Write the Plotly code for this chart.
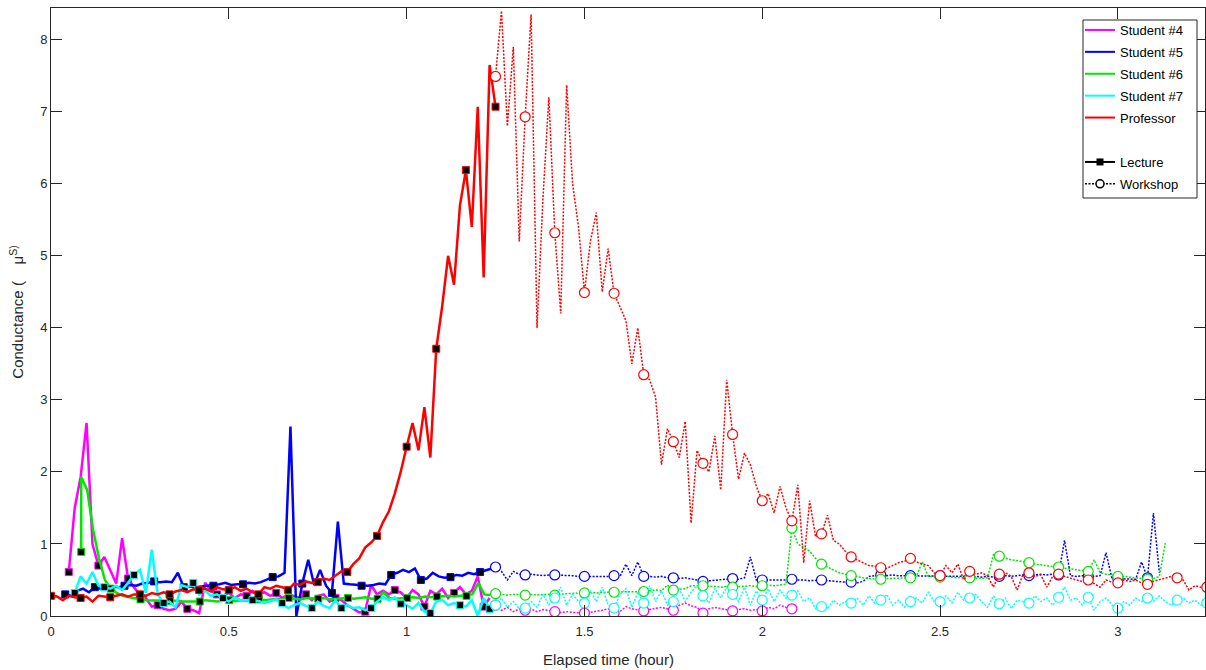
import plotly.graph_objects as go

# ---------------- data (one sample per minute; times in minutes) ----------------
STEP_MIN = 1.0

prof_lec_t0 = 0.0
prof_lec = [0.28, 0.27, 0.22, 0.28, 0.26, 0.25, 0.27, 0.20, 0.28, 0.27,
            0.26, 0.28, 0.30, 0.27, 0.30, 0.30, 0.28, 0.32, 0.30, 0.33,
            0.30, 0.34, 0.36, 0.33, 0.37, 0.36, 0.38, 0.34, 0.40, 0.37,
            0.36, 0.40, 0.35, 0.38, 0.33, 0.30, 0.40, 0.38, 0.42, 0.40,
            0.36, 0.45, 0.43, 0.48, 0.46, 0.47, 0.52, 0.50, 0.56, 0.62,
            0.61, 0.72, 0.80, 0.95, 1.02, 1.11, 1.30, 1.45, 1.70, 2.00,
            2.35, 2.68, 2.30, 2.90, 2.20, 3.71, 4.30, 5.00, 4.60, 5.70,
            6.19, 5.40, 7.07, 4.70, 7.65, 7.07]
prof_ws_t0 = 75.0
prof_ws = [7.49, 8.40, 6.80, 7.90, 5.20, 6.93, 8.35, 4.00, 5.80, 7.20,
           5.32, 4.20, 7.37, 6.00, 5.40, 4.49, 5.20, 5.60, 4.50, 5.10,
           4.48, 4.30, 4.10, 3.50, 4.00, 3.35, 3.28, 3.04, 2.10, 2.60,
           2.42, 2.20, 2.70, 1.29, 2.30, 2.12, 2.00, 2.50, 1.75, 3.28,
           2.52, 1.90, 2.26, 2.10, 1.80, 1.60, 1.70, 1.43, 1.80, 1.50,
           1.32, 1.82, 0.74, 1.60, 1.10, 1.14, 1.40, 1.05, 1.00, 0.90,
           0.82, 0.78, 0.74, 0.70, 0.69, 0.67, 0.66, 0.70, 0.74, 0.76,
           0.80, 0.75, 0.73, 0.70, 0.60, 0.56, 0.70, 0.60, 0.72, 0.50,
           0.62, 0.58, 0.60, 0.56, 0.40, 0.58, 0.60, 0.55, 0.36, 0.58,
           0.60, 0.55, 0.57, 0.40, 0.55, 0.58, 0.55, 0.52, 0.50, 0.48,
           0.50, 0.45, 0.40, 0.50, 0.47, 0.46, 0.50, 0.48, 0.50, 0.46,
           0.44, 0.48, 0.50, 0.52, 0.55, 0.53, 0.50, 0.36, 0.42, 0.40,
           0.40]

s4_lec_t0 = 3.0
s4_lec = [0.61, 1.50, 1.93, 2.68, 1.00, 0.70, 0.82, 0.64, 0.45, 1.08,
          0.52, 0.40, 0.29, 0.25, 0.13, 0.15, 0.10, 0.08, 0.10, 0.20,
          0.10, 0.08, 0.04, 0.46, 0.35, 0.30, 0.28, 0.32, 0.25, 0.30,
          0.28, 0.35, 0.30, 0.33, 0.28, 0.32, 0.25, 0.30, 0.27, 0.25,
          0.30, 0.22, 0.28, 0.30, 0.20, 0.25, 0.22, 0.15, 0.10, 0.05,
          0.06, 0.43, 0.30, 0.35, 0.30, 0.36, 0.33, 0.25, 0.36, 0.30,
          0.13, 0.35, 0.30, 0.38, 0.25, 0.32, 0.40, 0.30, 0.35, 0.55,
          0.13, 0.25]
s4_ws_t0 = 75.0
s4_ws = [0.15, 0.08, 0.12, 0.06, 0.10, 0.08, 0.10, 0.06, 0.09, 0.07,
         0.06, 0.05, 0.06, 0.05, 0.04, 0.04, 0.05, 0.06, 0.08, 0.10,
         0.04, 0.06, 0.13, 0.10, 0.08, 0.07, 0.09, 0.10, 0.12, 0.10,
         0.08, 0.15, 0.18, 0.14, 0.12, 0.04, 0.10, 0.12, 0.10, 0.08,
         0.07, 0.09, 0.10, 0.08, 0.09, 0.07, 0.12, 0.10, 0.15, 0.12,
         0.10]

s5_lec_t0 = 2.4
s5_lec = [0.30, 0.28, 0.35, 0.38, 0.33, 0.40, 0.38, 0.40, 0.41, 0.40,
          0.42, 0.43, 0.42, 0.45, 0.46, 0.48, 0.47, 0.48, 0.47, 0.60,
          0.40, 0.41, 0.40, 0.41, 0.42, 0.42, 0.44, 0.46, 0.43, 0.44,
          0.44, 0.46, 0.45, 0.47, 0.50, 0.54, 0.55, 0.60, 2.63, 0.00,
          0.45, 0.78, 0.43, 0.64, 0.42, 0.32, 1.31, 0.45, 0.44, 0.43,
          0.42, 0.42, 0.43, 0.45, 0.44, 0.57, 0.60, 0.64, 0.61, 0.66,
          0.50, 0.52, 0.60, 0.55, 0.53, 0.54, 0.57, 0.56, 0.60, 0.58,
          0.61, 0.63, 0.66]
s5_ws_t0 = 75.0
s5_ws = [0.68, 0.62, 0.50, 0.62, 0.58, 0.57, 0.58, 0.57, 0.56, 0.57,
         0.57, 0.56, 0.57, 0.56, 0.55, 0.55, 0.56, 0.55, 0.56, 0.55,
         0.56, 0.55, 0.72, 0.56, 0.75, 0.55, 0.55, 0.54, 0.55, 0.53,
         0.53, 0.52, 0.53, 0.52, 0.50, 0.48, 0.49, 0.50, 0.50, 0.51,
         0.52, 0.51, 0.53, 0.82, 0.50, 0.50, 0.50, 0.51, 0.50, 0.51,
         0.51, 0.50, 0.50, 0.49, 0.50, 0.50, 0.49, 0.48, 0.48, 0.47,
         0.47, 0.46, 0.48, 0.55, 0.56, 0.57, 0.56, 0.57, 0.56, 0.56,
         0.56, 0.55, 0.56, 0.55, 0.55, 0.56, 0.55, 0.56, 0.55, 0.55,
         0.54, 0.55, 0.54, 0.55, 0.54, 0.55, 0.56, 0.55, 0.56, 0.57,
         0.56, 0.57, 0.58, 0.57, 0.58, 0.57, 1.05, 0.56, 0.55, 0.56,
         0.55, 0.55, 0.56, 0.88, 0.52, 0.52, 0.51, 0.52, 0.51, 0.75,
         0.53, 1.43, 0.60]

s6_lec_t0 = 5.1
s6_lec = [0.89, 1.75, 1.20, 0.80, 0.50, 0.38, 0.32, 0.28, 0.26, 0.24,
          0.23, 0.22, 0.22, 0.21, 0.21, 0.21, 0.21, 0.20, 0.20, 0.21,
          0.20, 0.22, 0.21, 0.20, 0.21, 0.22, 0.21, 0.22, 0.21, 0.22,
          0.23, 0.22, 0.23, 0.24, 0.23, 0.25, 0.24, 0.23, 0.25, 0.24,
          0.24, 0.25, 0.23, 0.24, 0.25, 0.25, 0.24, 0.25, 0.26, 0.24,
          0.24, 0.33, 0.25, 0.24, 0.25, 0.25, 0.26, 0.25, 0.27, 0.26,
          0.27, 0.27, 0.28, 0.27, 0.28, 0.28, 0.30, 0.46, 0.30, 0.29]
s6_peak = 1.93
s6_ws_t0 = 75.0
s6_ws = [0.31, 0.30, 0.29, 0.30, 0.29, 0.29, 0.30, 0.29, 0.30, 0.30,
         0.29, 0.30, 0.31, 0.31, 0.32, 0.32, 0.33, 0.32, 0.33, 0.33,
         0.33, 0.34, 0.33, 0.34, 0.34, 0.34, 0.35, 0.36, 0.35, 0.43,
         0.36, 0.37, 0.38, 0.42, 0.42, 0.42, 0.42, 0.41, 0.40, 0.41,
         0.40, 0.41, 0.42, 0.42, 0.41, 0.42, 0.43, 0.42, 0.43, 0.44,
         1.22, 1.00, 0.95, 0.90, 0.80, 0.72, 0.68, 0.64, 0.60, 0.58,
         0.56, 0.55, 0.53, 0.52, 0.51, 0.51, 0.52, 0.52, 0.53, 0.53,
         0.53, 0.55, 0.75, 0.55, 0.54, 0.54, 0.55, 0.54, 0.53, 0.54,
         0.53, 0.52, 0.52, 0.53, 0.85, 0.83, 0.80, 0.78, 0.77, 0.76,
         0.74, 0.72, 0.71, 0.70, 0.69, 0.68, 0.67, 0.66, 0.65, 0.64,
         0.62, 0.78, 0.60, 0.58, 0.57, 0.55, 0.54, 0.53, 0.52, 0.52,
         0.51, 0.52, 0.55, 1.01]

s7_lec_t0 = 4.0
s7_lec = [0.32, 0.55, 0.45, 0.61, 0.42, 0.40, 0.38, 0.42, 0.36, 0.46,
          0.57, 0.64, 0.32, 0.92, 0.30, 0.18, 0.20, 0.12, 0.43, 0.40,
          0.46, 0.30, 0.35, 0.28, 0.30, 0.25, 0.20, 0.26, 0.22, 0.22,
          0.22, 0.21, 0.18, 0.20, 0.23, 0.18, 0.11, 0.15, 0.18, 0.14,
          0.11, 0.20, 0.14, 0.11, 0.22, 0.11, 0.15, 0.11, 0.12, 0.08,
          0.11, 0.20, 0.26, 0.22, 0.26, 0.17, 0.15, 0.10, 0.18, 0.06,
          0.04, 0.20, 0.22, 0.15, 0.18, 0.15, 0.13, 0.22, 0.00, 0.25,
          0.10]
s7_ws_t0 = 75.0
s7_ws = [0.15, 0.25, 0.12, 0.20, 0.10, 0.11, 0.20, 0.12, 0.30, 0.15,
         0.25, 0.40, 0.15, 0.30, 0.20, 0.18, 0.35, 0.20, 0.40, 0.15,
         0.11, 0.30, 0.38, 0.12, 0.33, 0.18, 0.42, 0.20, 0.35, 0.15,
         0.20, 0.38, 0.20, 0.33, 0.42, 0.28, 0.18, 0.38, 0.25, 0.40,
         0.30, 0.20, 0.40, 0.15, 0.35, 0.22, 0.38, 0.20, 0.36, 0.25,
         0.29, 0.35, 0.20, 0.25, 0.10, 0.13, 0.10, 0.22, 0.15, 0.20,
         0.18, 0.25, 0.15, 0.28, 0.18, 0.22, 0.30, 0.15, 0.22, 0.12,
         0.20, 0.25, 0.18, 0.33, 0.20, 0.20, 0.28, 0.18, 0.33, 0.22,
         0.25, 0.30, 0.20, 0.12, 0.28, 0.17, 0.25, 0.10, 0.22, 0.20,
         0.18, 0.28, 0.20, 0.25, 0.15, 0.26, 0.40, 0.22, 0.25, 0.15,
         0.26, 0.08, 0.20, 0.25, 0.15, 0.11, 0.20, 0.15, 0.25, 0.20,
         0.25, 0.20, 0.28, 0.20, 0.15, 0.22, 0.25, 0.18, 0.22, 0.15,
         0.18]

series_names = ["Student #4", "Student #5", "Student #6", "Student #7", "Professor"]
series_colors = ["#FF00FF", "#0000FF", "#00E600", "#00FFFF", "#FF0000"]
session_names = ["Lecture", "Workshop"]
lecture_data = [(s4_lec_t0, s4_lec), (s5_lec_t0, s5_lec), (s6_lec_t0, s6_lec),
                (s7_lec_t0, s7_lec), (prof_lec_t0, prof_lec)]
workshop_data = [(s4_ws_t0, s4_ws), (s5_ws_t0, s5_ws), (s6_ws_t0, s6_ws),
                 (s7_ws_t0, s7_ws), (prof_ws_t0, prof_ws)]
MARKER_EVERY = 5

x_ticks = [0, 0.5, 1, 1.5, 2, 2.5, 3]
y_ticks = [0, 1, 2, 3, 4, 5, 6, 7, 8]
x_range = [0, 3.245]
y_range = [0, 8.44]


def hours(t0, vals):
    return [(t0 + i * STEP_MIN) / 60.0 for i in range(len(vals))]


FONT = "Liberation Sans, Arial, Helvetica, sans-serif"
TXT = "#262626"
DOT = "2px,1.5px"

# plot-area geometry in pixels (for placing paper-referenced items)
L, R, T, B = 51, 1205, 8, 616


def px(xp):
    return (xp - L) / (R - L)


def py(yp):
    return (B - yp) / (B - T)


fig = go.Figure()

for k, name in enumerate(series_names):
    col = series_colors[k]
    t0, v = lecture_data[k]
    x = hours(t0, v)
    y = list(v)
    if k == 2:  # Student #6 jumps straight up to its peak at the first sample
        x = [x[0]] + x
        y = [y[0], s6_peak] + y[1:]
    fig.add_trace(go.Scatter(x=x, y=y, mode="lines", showlegend=False, hoverinfo="skip",
                             line=dict(color=col, width=2.5)))
    fig.add_trace(go.Scatter(x=hours(t0, v)[::MARKER_EVERY], y=list(v)[::MARKER_EVERY],
                             mode="markers", showlegend=False, hoverinfo="skip",
                             marker=dict(symbol="square", size=7, color="black",
                                         line=dict(color=col, width=1))))
    t0, v = workshop_data[k]
    xw = hours(t0, v)
    fig.add_trace(go.Scatter(x=xw, y=v, mode="lines", showlegend=False, hoverinfo="skip",
                             line=dict(color=col, width=1.5, dash=DOT)))
    fig.add_trace(go.Scatter(x=xw[::MARKER_EVERY], y=v[::MARKER_EVERY], mode="markers",
                             showlegend=False, hoverinfo="skip",
                             marker=dict(symbol="circle", size=10, color="white",
                                         line=dict(color=col, width=1.2))))

# legend entries: colours (legend) and session styles (legend2), one box around both
for k, name in enumerate(series_names):
    fig.add_trace(go.Scatter(x=[None], y=[None], mode="lines", name=name, legend="legend",
                             legendgroup=name, line=dict(color=series_colors[k], width=2)))
fig.add_trace(go.Scatter(x=[None], y=[None], mode="lines+markers", name=session_names[0],
                         legend="legend2", legendgroup="lec", line=dict(color="black", width=2),
                         marker=dict(symbol="square", size=7, color="black")))
fig.add_trace(go.Scatter(x=[None], y=[None], mode="lines+markers", name=session_names[1],
                         legend="legend2", legendgroup="ws",
                         line=dict(color="black", width=1.5, dash=DOT),
                         marker=dict(symbol="circle", size=8, color="white",
                                     line=dict(color="black", width=1.5))))

axis_common = dict(showline=True, linecolor=TXT, linewidth=1, mirror="ticks",
                   ticks="inside", ticklen=11, tickcolor=TXT, tickwidth=1,
                   showgrid=False, zeroline=False,
                   tickfont=dict(family=FONT, size=13, color=TXT))

legend_common = dict(xanchor="left", yanchor="top", bgcolor="rgba(0,0,0,0)", borderwidth=0,
                     font=dict(family=FONT, size=13, color="black"),
                     traceorder="grouped", tracegroupgap=2, itemwidth=30)

fig.update_layout(
    width=1206, height=670,
    margin=dict(l=L, r=1206 - R, t=T, b=670 - B),
    paper_bgcolor="white", plot_bgcolor="white",
    font=dict(family=FONT, color=TXT),
    xaxis=dict(range=x_range, tickvals=x_ticks, ticktext=[str(t) for t in x_ticks],
               ticklabelstandoff=3, **axis_common),
    yaxis=dict(range=y_range, tickvals=y_ticks,
               title=dict(text="Conductance (&nbsp;&nbsp;&nbsp;&nbsp;μ<sup>S)</sup>",
                          font=dict(family=FONT, size=15, color=TXT), standoff=12),
               **axis_common),
    legend=dict(x=px(1080), y=py(15), **legend_common),
    legend2=dict(x=px(1080), y=py(147), **legend_common),
    shapes=[dict(type="rect", xref="paper", yref="paper",
                 x0=px(1083), x1=px(1197), y0=py(198), y1=py(20),
                 line=dict(color=TXT, width=1), fillcolor="white", layer="above")],
    annotations=[dict(text="Elapsed time (hour)", xref="paper", yref="paper",
                      x=px(608), y=py(659), xanchor="center", yanchor="middle",
                      showarrow=False, font=dict(family=FONT, size=15, color=TXT))],
    showlegend=True,
)

fig.write_html("out.html")
